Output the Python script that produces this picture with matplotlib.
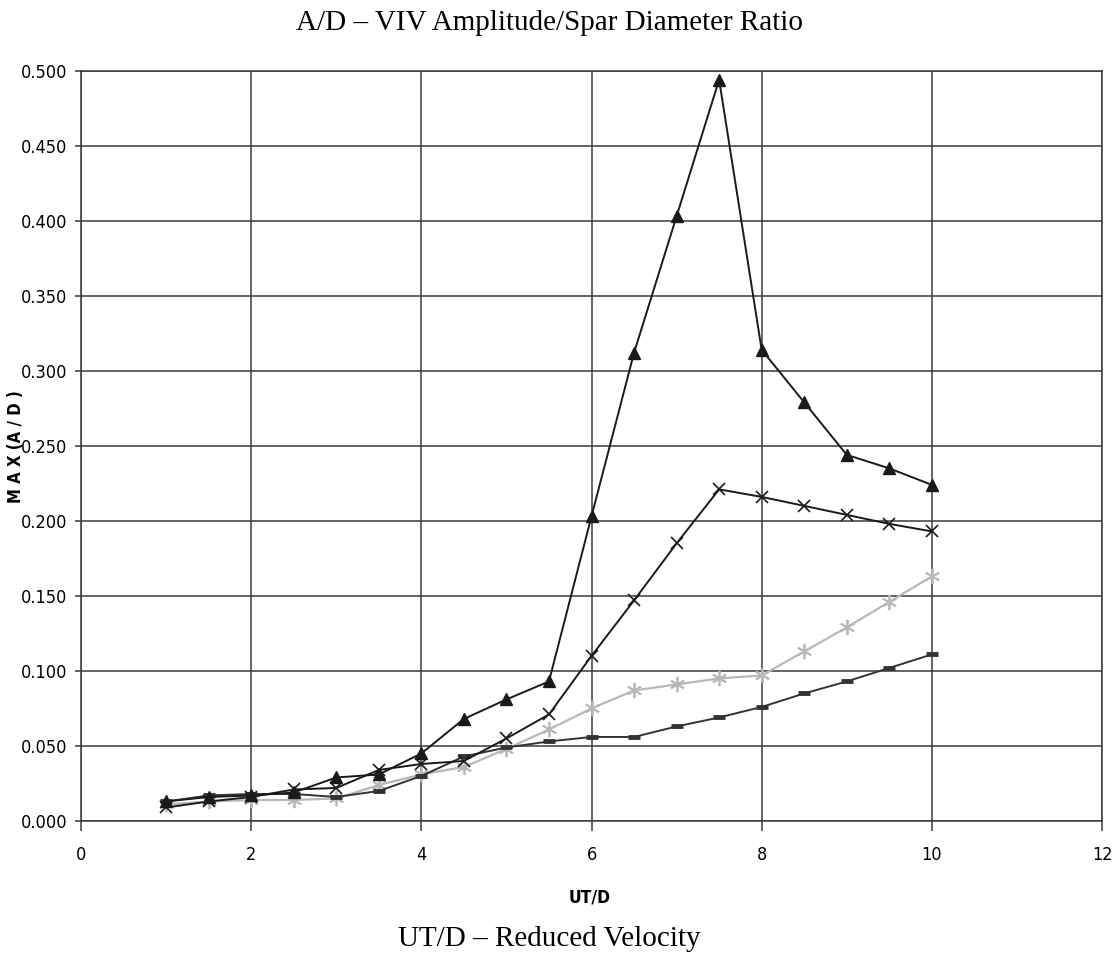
import matplotlib
matplotlib.use("Agg")
import matplotlib.pyplot as plt
from matplotlib import font_manager as fm
from matplotlib.font_manager import FontProperties

ut_d = [1, 1.5, 2, 2.5, 3, 3.5, 4, 4.5, 5, 5.5, 6, 6.5, 7, 7.5, 8, 8.5, 9, 9.5, 10]
tri_vals = [0.013, 0.016, 0.017, 0.019, 0.029, 0.031, 0.045, 0.068, 0.081, 0.093,
            0.203, 0.312, 0.403, 0.494, 0.314, 0.279, 0.244, 0.235, 0.224]
x_vals = [0.009, 0.013, 0.016, 0.021, 0.022, 0.034, 0.038, 0.040, 0.055, 0.071,
          0.110, 0.147, 0.185, 0.221, 0.216, 0.210, 0.204, 0.198, 0.193]
star_vals = [0.011, 0.013, 0.014, 0.014, 0.015, 0.024, 0.031, 0.036, 0.048, 0.061,
             0.075, 0.087, 0.091, 0.095, 0.097, 0.113, 0.129, 0.146, 0.163]
dash_vals = [0.013, 0.017, 0.018, 0.018, 0.016, 0.020, 0.030, 0.043, 0.049, 0.053,
             0.056, 0.056, 0.063, 0.069, 0.076, 0.085, 0.093, 0.102, 0.111]
x_ticks = [0, 2, 4, 6, 8, 10, 12]
y_ticks = [0.0, 0.05, 0.1, 0.15, 0.2, 0.25, 0.3, 0.35, 0.4, 0.45, 0.5]

# find a condensed / narrow sans font file if one is installed
reg_file = None
bold_file = None
for f in fm.fontManager.ttflist:
    nm = (f.name + ' ' + f.fname).lower()
    is_cond = ('narrow' in nm or 'condensed' in nm) and 'serif' not in f.name.lower() and 'mono' not in nm
    if not is_cond or f.style != 'normal':
        continue
    w = f.weight if isinstance(f.weight, int) else (700 if 'bold' in str(f.weight) else 400)
    if w >= 600 and bold_file is None:
        bold_file = f.fname
    elif w < 600 and reg_file is None and 'bold' not in f.fname.lower():
        reg_file = f.fname

if reg_file:
    tick_fp = FontProperties(fname=reg_file, size=13)
else:
    tick_fp = FontProperties(family='Liberation Sans', size=12.5)
if bold_file:
    lab_fp = FontProperties(fname=bold_file, size=12)
    xl_fp = FontProperties(fname=bold_file, size=12.5)
else:
    lab_fp = FontProperties(family='Liberation Sans', weight='bold', size=11.5)
    xl_fp = FontProperties(family='Liberation Sans', weight='bold', size=12)

fig = plt.figure(figsize=(11.19, 9.58), dpi=100)
ax = fig.add_axes([81/1119, 1-821/958, (1102-81)/1119, (821-70.7)/958])

ax.plot(ut_d, star_vals, color='#b8b8b8', lw=1.6, marker=(6, 2, 0), ms=11, mew=1.3, zorder=3)
ax.plot(ut_d, dash_vals, color='#333333', lw=1.4, marker='_', ms=8, mew=3.5, zorder=4)
ax.plot(ut_d, x_vals, color='#1a1a1a', lw=1.4, marker='x', ms=9, mew=1.2, zorder=5)
ax.plot(ut_d, tri_vals, color='#1a1a1a', lw=1.4, marker='^', ms=8, zorder=6)

ax.set_xlim(0, 12)
ax.set_ylim(0, 0.5)
ax.set_xticks(x_ticks)
ax.set_yticks(y_ticks)
ax.set_xticklabels([str(t) for t in x_ticks], fontproperties=tick_fp)
ax.set_yticklabels([f"{t:.3f}" for t in y_ticks], fontproperties=tick_fp)
ax.grid(True, color='#3a3a3a', lw=1.1)
ax.set_axisbelow(True)
for s in ax.spines.values():
    s.set_color('#3a3a3a')
    s.set_linewidth(1.1)
ax.tick_params(axis='y', length=4, width=1.1, color='#3a3a3a', pad=6)
ax.tick_params(axis='x', length=7, width=1.1, color='#3a3a3a', pad=11)

fig.text(16/1119, 1-447/958, 'M A X (A / D )', rotation=90, ha='center', va='center',
         fontproperties=lab_fp)
fig.text(590/1119, 1-897/958, 'UT/D', ha='center', va='center', fontproperties=xl_fp)

fig.text(549/1119, 1-23/958, 'A/D – VIV Amplitude/Spar Diameter Ratio', ha='center', va='center',
         fontfamily='Liberation Serif', fontsize=21)
fig.text(549/1119, 1-939/958, 'UT/D – Reduced Velocity', ha='center', va='center',
         fontfamily='Liberation Serif', fontsize=21)

fig.savefig('out.png', dpi=100)
